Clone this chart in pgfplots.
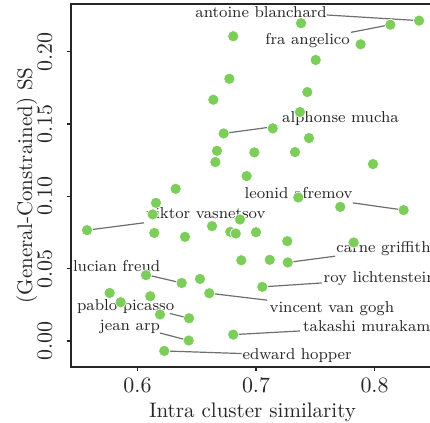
\documentclass[border=0pt]{standalone}
\usepackage{pgfplots}
\pgfplotsset{compat=1.18}
\definecolor{ptgreen}{RGB}{125,205,90}
\definecolor{txt}{RGB}{38,38,38}
\definecolor{lgray}{RGB}{110,110,110}
\pgfplotstableread{
x y
0.6808 0.2107
0.6775 0.1813
0.6640 0.1668
0.6727 0.1435
0.6671 0.1315
0.6657 0.1237
0.6921 0.1140
0.6322 0.1052
0.8376 0.2215
0.8134 0.2187
0.7380 0.2197
0.7883 0.2051
0.7504 0.1943
0.7433 0.1721
0.7371 0.1583
0.7141 0.1470
0.7447 0.1403
0.6986 0.1304
0.7329 0.1306
0.7987 0.1223
0.6156 0.0955
0.6128 0.0875
0.5574 0.0766
0.6142 0.0747
0.6401 0.0720
0.6629 0.0794
0.6865 0.0840
0.6783 0.0754
0.6829 0.0743
0.6876 0.0558
0.6072 0.0455
0.6527 0.0429
0.6373 0.0401
0.5765 0.0332
0.5858 0.0268
0.6108 0.0309
0.6606 0.0330
0.6190 0.0183
0.6435 0.0157
0.6432 0.0003
0.6808 0.0044
0.6226 -0.0069
0.7357 0.0992
0.7711 0.0927
0.8246 0.0905
0.7000 0.0752
0.7264 0.0690
0.7824 0.0681
0.7116 0.0561
0.7268 0.0543
0.7053 0.0374
}\pts
\begin{document}
\begin{tikzpicture}
\useasboundingbox (-35.5pt,-28pt) rectangle (179.5pt,183.5pt);
\clip (-35.5pt,-28pt) rectangle (179.5pt,183.5pt);
\begin{axis}[
  anchor=south west, at={(0pt,0pt)},
  scale only axis, width=181.5pt, height=181.5pt,
  xmin=0.5439, xmax=0.8502, ymin=-0.018, ymax=0.233,
  clip=false,
  axis line style={black!85, line width=0.6pt},
  tick align=outside, major tick length=2pt,
  tick style={black!85, line width=0.6pt},
  xtick pos=bottom, ytick pos=left,
  xtick={0.6,0.7,0.8},
  ytick={0,0.05,0.1,0.15,0.2},
  xticklabel style={/pgf/number format/fixed, /pgf/number format/fixed zerofill, /pgf/number format/precision=1},
  yticklabel style={/pgf/number format/fixed, /pgf/number format/fixed zerofill, /pgf/number format/precision=2},
  scaled x ticks=false, scaled y ticks=false,
  tick label style={font=\fontsize{10.5}{12}\selectfont, text=txt},
  yticklabel style={rotate=90, anchor=south},
  yticklabel shift=4pt,
  xlabel={Intra cluster similarity},
  ylabel={(General-Constrained) SS},
  xlabel style={font=\fontsize{10.5}{12}\selectfont, text=txt, at={(axis description cs:0.5,0)}, anchor=base, yshift=-25.5pt},
  ylabel style={font=\fontsize{10.5}{12}\selectfont, text=txt, at={(axis description cs:-0.1074,0.5)}, anchor=base},
]
\addplot[only marks, mark=*, mark size=2.8pt, mark options={fill=ptgreen, draw=white, line width=0.3pt}] table[x=x,y=y] {\pts};

\draw[lgray, line width=0.6pt] (axis cs:0.7597,0.2254) -- (axis cs:0.8376,0.2215);
\draw[lgray, line width=0.6pt] (axis cs:0.7802,0.2134) -- (axis cs:0.8134,0.2187);
\draw[lgray, line width=0.6pt] (axis cs:0.7188,0.1486) -- (axis cs:0.6727,0.1435);
\draw[lgray, line width=0.6pt] (axis cs:0.7816,0.0955) -- (axis cs:0.8246,0.0905);
\draw[lgray, line width=0.6pt] (axis cs:0.6055,0.0817) -- (axis cs:0.5574,0.0766);
\draw[lgray, line width=0.6pt] (axis cs:0.7667,0.0586) -- (axis cs:0.7268,0.0543);
\draw[lgray, line width=0.6pt] (axis cs:0.6091,0.0455) -- (axis cs:0.6373,0.0401);
\draw[lgray, line width=0.6pt] (axis cs:0.7554,0.0401) -- (axis cs:0.7053,0.0374);
\draw[lgray, line width=0.6pt] (axis cs:0.7095,0.0282) -- (axis cs:0.6606,0.0330);
\draw[lgray, line width=0.6pt] (axis cs:0.6274,0.0190) -- (axis cs:0.6435,0.0157);
\draw[lgray, line width=0.6pt] (axis cs:0.6190,0.0055) -- (axis cs:0.6432,0.0003);
\draw[lgray, line width=0.6pt] (axis cs:0.7371,0.0069) -- (axis cs:0.6808,0.0044);
\draw[lgray, line width=0.6pt] (axis cs:0.6879,-0.0087) -- (axis cs:0.6226,-0.0069);

\tikzset{lab/.style={anchor=base west, inner sep=0pt, font=\fontsize{7.9}{9}\selectfont, text=txt}}
\node[lab] at (axis cs:0.6485,0.2238) {antoine blanchard};
\node[lab] at (axis cs:0.7076,0.2053) {fra angelico};
\node[lab] at (axis cs:0.7217,0.1509) {alphonse mucha};
\node[lab] at (axis cs:0.6901,0.0985) {leonid afremov};
\node[lab] at (axis cs:0.6072,0.0847) {viktor vasnetsov};
\node[lab] at (axis cs:0.7675,0.0609) {carne griffiths};
\node[lab] at (axis cs:0.5453,0.0478) {lucian freud};
\node[lab] at (axis cs:0.7568,0.0401) {roy lichtenstein};
\node[lab] at (axis cs:0.7112,0.0194) {vincent van gogh};
\node[lab] at (axis cs:0.5487,0.0212) {pablo picasso};
\node[lab] at (axis cs:0.5678,0.0074) {jean arp};
\node[lab] at (axis cs:0.7394,0.0067) {takashi murakami};
\node[lab] at (axis cs:0.6884,-0.0129) {edward hopper};
\end{axis}
\end{tikzpicture}
\end{document}
